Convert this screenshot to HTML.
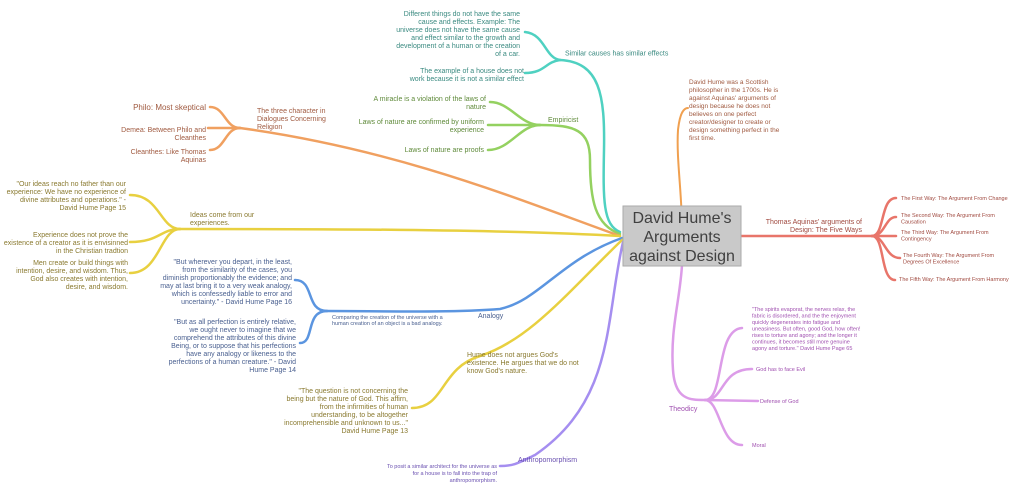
<!DOCTYPE html>
<html><head><meta charset="utf-8"><style>
html,body{margin:0;padding:0;background:#fff;width:1024px;height:494px;overflow:hidden}
svg{font-family:"Liberation Sans",sans-serif}
</style></head><body>
<svg width="1024" height="494" viewBox="0 0 1024 494" xmlns="http://www.w3.org/2000/svg">
<g fill="none" stroke-linecap="round">
<g stroke="#4fd1c1" stroke-width="2.5">
<path d="M620,232 C603,225 603,200 604,150 C605,95 600,62 560,60"/>
<path d="M560,60 C545,58 545,34 525,32"/>
<path d="M560,60 C545,62 545,73 525,73"/>
</g>
<g stroke="#94d160" stroke-width="2.5">
<path d="M620,234 C595,225 590,200 590,160 C590,130 575,125 540,125"/>
<path d="M540,125 C520,125 510,102 490,102"/>
<path d="M540,125 L488,125"/>
<path d="M540,125 C520,125 510,150 488,150"/>
</g>
<g stroke="#f0a060" stroke-width="2.5">
<path d="M620,236 C520,200 400,150 240,128"/>
<path d="M240,128 C225,128 225,107 210,107"/>
<path d="M240,128 L208,128"/>
<path d="M240,128 C225,128 225,150 210,150"/>
</g>
<path d="M682,238 C683,200 676,160 678,130 C680,112 684,108 688,108" stroke="#f0a050" stroke-width="2"/>
<g stroke="#e8d040" stroke-width="2.5">
<path d="M620,236 C500,229 300,229 180,229"/>
<path d="M180,229 C160,229 160,195 130,195"/>
<path d="M180,229 C160,229 160,242 130,242"/>
<path d="M180,229 C160,229 160,273 130,273"/>
</g>
<g stroke="#5b95e0" stroke-width="2.5">
<path d="M622,238 C560,260 540,300 500,309 C450,313 380,311 327,311"/>
<path d="M327,311 C305,311 315,280 295,280"/>
<path d="M327,311 C305,311 315,343 300,343"/>
</g>
<path d="M622,240 C570,290 530,340 480,356 C440,368 445,408 412,408" stroke="#e8d040" stroke-width="2.5"/>
<path d="M623,242 C605,320 615,400 535,455 C520,462 515,466 500,466" stroke="#a58ef0" stroke-width="2.5"/>
<g stroke="#dc9ce8" stroke-width="2.5">
<path d="M682,265 C680,300 670,330 673,370 C675,400 690,400 705,400"/>
<path d="M705,400 C725,400 715,330 742,328"/>
<path d="M705,400 C725,400 720,369 752,369"/>
<path d="M705,400 L758,401"/>
<path d="M705,400 C720,400 720,445 742,445"/>
</g>
<g stroke="#e8756a" stroke-width="2.5">
<path d="M741,236 L872,236"/>
<path d="M872,236 C885,236 880,198 896,198"/>
<path d="M872,236 C885,236 885,217 896,217"/>
<path d="M872,236 L896,236"/>
<path d="M872,236 C885,236 885,258 900,258"/>
<path d="M872,236 C885,236 880,280 895,280"/>
</g>
</g>
<rect x="623" y="206" width="118" height="60" fill="#c9c9c9" stroke="#aaa"/>
<g font-size="16" fill="#404040" text-anchor="middle">
<text x="682" y="223">David Hume's</text>
<text x="682" y="242">Arguments</text>
<text x="682" y="261">against Design</text>
</g>
<g font-size="7" fill="#3a8a80">
<text x="565" y="55.5">Similar causes has similar effects</text>
<g text-anchor="end">
<text x="520" y="16">Different things do not have the same</text>
<text x="520" y="24">cause and effects. Example: The</text>
<text x="520" y="32">universe does not have the same cause</text>
<text x="520" y="40">and effect similar to the growth and</text>
<text x="520" y="48">development of a human or the creation</text>
<text x="520" y="56">of a car.</text>
<text x="524" y="73">The example of a house does not</text>
<text x="524" y="81">work because it is not a similar effect</text>
</g></g>
<g font-size="7" fill="#5f8a3a">
<text x="548" y="122">Empiricist</text>
<g text-anchor="end">
<text x="486" y="101">A miracle is a violation of the laws of</text>
<text x="486" y="109">nature</text>
<text x="484" y="124">Laws of nature are confirmed by uniform</text>
<text x="484" y="132">experience</text>
<text x="484" y="152">Laws of nature are proofs</text>
</g></g>
<g font-size="7" fill="#a05a40">
<text x="257" y="113">The three character in</text>
<text x="257" y="121">Dialogues Concerning</text>
<text x="257" y="129">Religion</text>
<g text-anchor="end">
<text x="206" y="110" font-size="8">Philo: Most skeptical</text>
<text x="206" y="132">Demea: Between Philo and</text>
<text x="206" y="140">Cleanthes</text>
<text x="206" y="154">Cleanthes: Like Thomas</text>
<text x="206" y="162">Aquinas</text>
</g></g>
<g font-size="6.5" fill="#a05a40">
<text x="689" y="84">David Hume was a Scottish</text>
<text x="689" y="92">philosopher in the 1700s. He is</text>
<text x="689" y="100">against Aquinas' arguments of</text>
<text x="689" y="108">design because he does not</text>
<text x="689" y="116">believes on one perfect</text>
<text x="689" y="124">creator/designer to create or</text>
<text x="689" y="132">design something perfect in the</text>
<text x="689" y="140">first time.</text>
</g>
<g font-size="7" fill="#8a7a30">
<text x="190" y="217">Ideas come from our</text>
<text x="190" y="225">experiences.</text>
<g text-anchor="end">
<text x="126" y="186">"Our ideas reach no father than our</text>
<text x="126" y="194">experience: We have no experience of</text>
<text x="126" y="202">divine attributes and operations." -</text>
<text x="126" y="210">David Hume Page 15</text>
<text x="128" y="237">Experience does not prove the</text>
<text x="128" y="245">existence of a creator as it is envisinned</text>
<text x="128" y="253">in the Christian tradtion</text>
<text x="128" y="265">Men create or build things with</text>
<text x="128" y="273">intention, desire, and wisdom. Thus,</text>
<text x="128" y="281">God also creates with intention,</text>
<text x="128" y="289">desire, and wisdom.</text>
<text x="408" y="393">"The question is not concerning the</text>
<text x="408" y="401">being but the nature of God. This affirn,</text>
<text x="408" y="409">from the infirmities of human</text>
<text x="408" y="417">understanding, to be altogether</text>
<text x="408" y="425">incomprehensible and unknown to us..."</text>
<text x="408" y="433">David Hume Page 13</text>
</g>
<text x="467" y="357">Hume does not argues God's</text>
<text x="467" y="365">existence. He argues that we do not</text>
<text x="467" y="373">know God's nature.</text>
</g>
<g font-size="7" fill="#4a6090">
<text x="478" y="318">Analogy</text>
<text x="332" y="319" font-size="5.5">Comparing the creation of the universe with a</text>
<text x="332" y="325" font-size="5.5">human creation of an object is a bad analogy.</text>
<g text-anchor="end">
<text x="292" y="264">"But wherever you depart, in the least,</text>
<text x="292" y="272">from the similarity of the cases, you</text>
<text x="292" y="280">diminish proportionably the evidence; and</text>
<text x="292" y="288">may at last bring it to a very weak analogy,</text>
<text x="292" y="296">which is confessedly liable to error and</text>
<text x="292" y="304">uncertainty." - David Hume Page 16</text>
<text x="296" y="324">"But as all perfection is entirely relative,</text>
<text x="296" y="332">we ought never to imagine that we</text>
<text x="296" y="340">comprehend the attributes of this divine</text>
<text x="296" y="348">Being, or to suppose that his perfections</text>
<text x="296" y="356">have any analogy or likeness to the</text>
<text x="296" y="364">perfections of a human creature." - David</text>
<text x="296" y="372">Hume Page 14</text>
</g></g>
<g font-size="7" fill="#6a50b0">
<text x="518" y="462">Anthropomorphism</text>
<g text-anchor="end" font-size="5.5">
<text x="497" y="468">To posit a similar architect for the universe as</text>
<text x="497" y="475">for a house is to fall into the trap of</text>
<text x="497" y="482">anthropomorphism.</text>
</g></g>
<g font-size="5.5" fill="#a050b0">
<text x="669" y="411" font-size="7">Theodicy</text>
<text x="752" y="311">"The spirits evaporat, the nerves relax, the</text>
<text x="752" y="317.5">fabric is disordered, and the the enjoyment</text>
<text x="752" y="324">quickly degenerates into fatigue and</text>
<text x="752" y="330.5">uneasiness. But often, good God, how often!</text>
<text x="752" y="337">rises to torture and agony; and the longer it</text>
<text x="752" y="343.5">continues, it becomes still more genuine</text>
<text x="752" y="350">agony and torture." David Hume Page 65</text>
<text x="756" y="371">God has to face Evil</text>
<text x="760" y="403">Defense of God</text>
<text x="752" y="447">Moral</text>
</g>
<g font-size="7" fill="#a04a40">
<text x="862" y="224" text-anchor="end">Thomas Aquinas' arguments of</text>
<text x="862" y="232" text-anchor="end">Design: The Five Ways</text>
<g font-size="5.5">
<text x="901" y="200">The First Way: The Argument From Change</text>
<text x="901" y="217">The Second Way: The Argument From</text>
<text x="901" y="223.5">Causation</text>
<text x="901" y="234">The Third Way: The Argument From</text>
<text x="901" y="240.5">Contingency</text>
<text x="903" y="257">The Fourth Way: The Argument From</text>
<text x="903" y="263.5">Degrees Of Excellence</text>
<text x="899" y="281">The Fifth Way: The Argument From Harmony</text>
</g></g>
</svg>
</body></html>
